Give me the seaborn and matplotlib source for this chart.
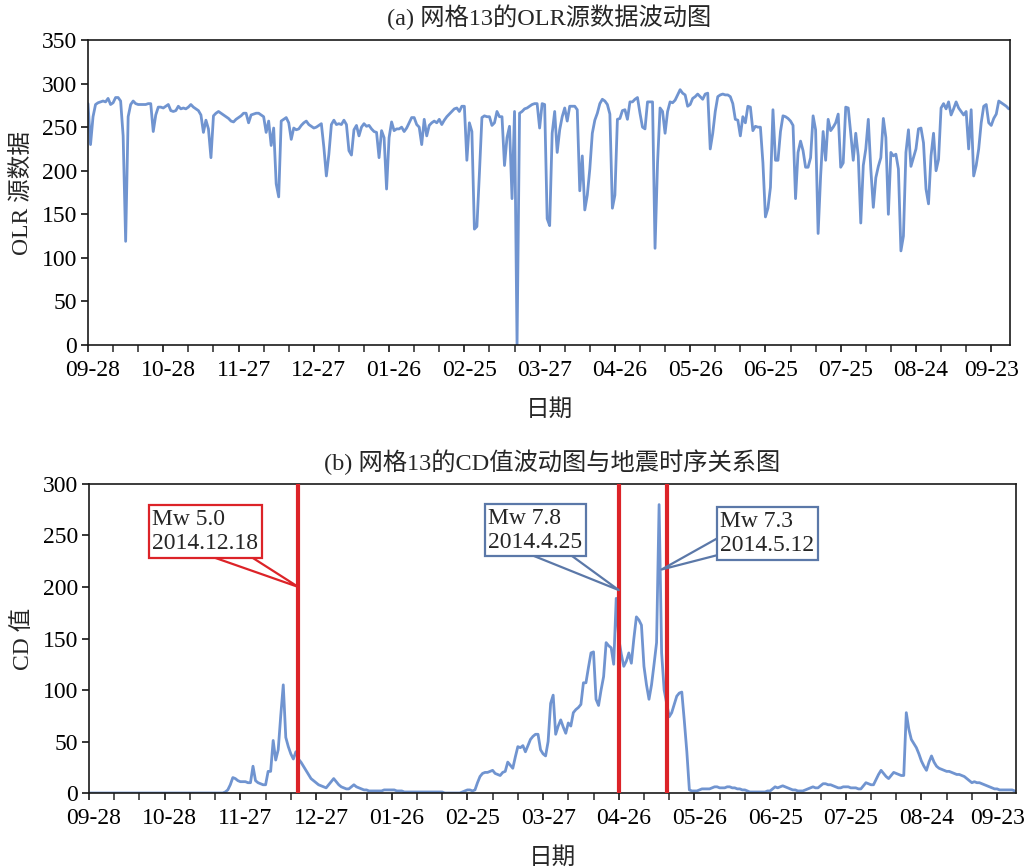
import matplotlib
matplotlib.use('Agg')
import matplotlib.pyplot as plt
import matplotlib.dates as mdates
from matplotlib.ticker import FixedLocator, MultipleLocator
from matplotlib.transforms import ScaledTranslation
import pandas as pd
import seaborn as sns

start = '2014-09-28'

# daily OLR values of grid 13
olr = [277, 230, 262, 276, 278, 279, 280, 279, 283, 276,
       278, 284, 284, 280, 240, 119, 262, 276, 280, 277,
       276, 276, 276, 276, 277, 277, 245, 264, 273, 273,
       272, 274, 276, 269, 268, 269, 274, 271, 272, 271,
       273, 276, 273, 271, 269, 264, 244, 258, 248, 215,
       263, 266, 268, 266, 264, 262, 260, 257, 256, 259,
       261, 263, 266, 266, 255, 264, 265, 266, 266, 264,
       262, 244, 257, 229, 249, 185, 170, 257, 259, 261,
       255, 236, 249, 247, 248, 252, 255, 257, 253, 251,
       249, 250, 252, 254, 227, 194, 219, 253, 258, 253,
       254, 253, 258, 253, 223, 218, 247, 252, 240, 250,
       254, 251, 252, 248, 245, 244, 215, 246, 238, 179,
       238, 256, 246, 248, 248, 250, 245, 249, 255, 261,
       261, 253, 250, 230, 259, 240, 252, 255, 257, 255,
       259, 253, 258, 262, 265, 268, 271, 272, 268, 274,
       274, 212, 255, 245, 133, 136, 197, 261, 263, 262,
       262, 252, 255, 268, 262, 262, 206, 238, 251, 168,
       268, 0, 266, 268, 271, 272, 274, 276, 277, 277,
       249, 277, 276, 145, 137, 243, 268, 221, 247, 262,
       272, 257, 274, 274, 274, 270, 177, 217, 155, 172,
       202, 243, 258, 266, 277, 282, 280, 276, 265, 157,
       172, 259, 260, 269, 270, 259, 279, 279, 282, 284,
       266, 250, 248, 279, 279, 279, 111, 209, 272, 268,
       243, 268, 279, 278, 281, 287, 293, 289, 287, 274,
       276, 283, 285, 288, 285, 282, 288, 289, 225, 243,
       268, 285, 287, 288, 287, 287, 285, 277, 259, 258,
       240, 262, 255, 274, 273, 246, 251, 250, 250, 209,
       147, 157, 181, 270, 212, 212, 245, 263, 262, 260,
       257, 252, 168, 221, 234, 223, 204, 204, 215, 263,
       247, 128, 194, 245, 212, 259, 246, 250, 255, 265,
       204, 209, 273, 272, 243, 212, 243, 217, 140, 206,
       225, 259, 202, 158, 192, 205, 215, 260, 238, 150,
       221, 217, 219, 202, 108, 125, 221, 247, 205, 215,
       225, 248, 249, 232, 179, 162, 217, 243, 200, 213,
       272, 277, 271, 279, 264, 271, 279, 272, 268, 264,
       268, 225, 270, 194, 206, 225, 255, 274, 276, 255,
       252, 260, 265, 280, 278, 276, 274, 271]

# daily CD values
cd = [0] * 50 + [
    0, 0, 0, 0, 1, 3, 8, 15, 14, 12,
    11, 11, 11, 10, 10, 26, 12, 10, 9, 8,
    8, 21, 21, 51, 32, 42, 75, 105, 54, 45,
    38, 33, 40, 33, 30, 26, 22, 18, 14, 12,
    10, 8, 7, 6, 5, 8, 11, 14, 11, 8,
    6, 5, 4, 4, 6, 8, 6, 5, 4, 3,
    3, 2, 2, 2, 2, 2, 2, 3, 3, 3,
    3, 3, 2, 2, 2, 1, 1, 1, 1, 1,
    1, 1, 1, 1, 1, 1, 1, 1, 1, 1,
    1, 0, 0, 0, 0, 0, 0, 0, 1, 2,
    3, 3, 2, 3, 10, 16, 19, 20, 20, 21,
    22, 19, 18, 17, 20, 21, 30, 27, 24, 35,
    45, 44, 46, 40, 46, 52, 55, 57, 57, 42,
    38, 36, 50, 87, 95, 57, 65, 71, 64, 58,
    68, 65, 78, 81, 83, 86, 107, 107, 122, 136,
    137, 91, 85, 100, 113, 146, 143, 141, 125, 189,
    150, 135, 123, 128, 136, 126, 150, 171, 168, 163,
    123, 105, 91, 105, 125, 146, 280, 136, 100, 87,
    74, 78, 86, 94, 97, 98, 70, 40, 3, 2,
    2, 2, 3, 4, 4, 4, 4, 5, 6, 6,
    5, 5, 5, 6, 6, 5, 5, 4, 4, 3,
    3, 2, 1, 1, 1, 1, 1, 1, 1, 2,
    2, 4, 6, 5, 6, 7, 6, 5, 4, 3,
    3, 2, 2, 2, 3, 4, 5, 6, 5, 5,
    7, 9, 9, 8, 8, 7, 6, 5, 5, 6,
    6, 6, 5, 5, 5, 4, 4, 7, 10, 9,
    8, 8, 13, 18, 22, 19, 16, 14, 17, 20,
    19, 18, 17, 17, 78, 62, 52, 48, 44, 38,
    31, 26, 22, 30, 36, 30, 26, 24, 23, 22,
    21, 21, 20, 19, 18, 18, 17, 16, 14, 12,
    10, 11, 10, 10, 9, 8, 7, 6, 5, 4,
    4, 3, 3, 3, 3, 3, 3, 2]

# earthquake marks (line positions) and callouts
quake_dates = ['2014-12-20', '2015-04-26', '2015-05-15']
quake_labels = ['Mw 5.0\n2014.12.18', 'Mw 7.8\n2014.4.25', 'Mw 7.3\n2014.5.12']
tip_dates = ['2014-12-20', '2015-04-26', '2015-05-13']
tip_values = [200, 197, 217]
box_dates = ['2014-11-13', '2015-03-24', '2015-06-24']
box_values = [254, 255, 252]
box_colors = ['#DC2328', '#5B78A8', '#5B78A8']
# where the pointer leaves the box (fraction of box) and its width
pointer_relpos = [(0.3, 0.5), (0.24, 0.5), (0.45, 0.6)]
pointer_width = [1.25, 1.3, 1.2]

dates = pd.date_range(start, periods=len(olr), freq='D')
df = pd.DataFrame({'date': dates, 'olr': olr, 'cd': cd})
major_ticks = pd.date_range(start, periods=13, freq='30D')
minor_ticks = pd.date_range(start, periods=37, freq='10D')

sns.set_style('ticks')
plt.rcParams['font.family'] = ['Liberation Serif', 'Noto Sans CJK SC']
plt.rcParams['font.size'] = 17
plt.rcParams['axes.linewidth'] = 1.2
plt.rcParams['xtick.major.size'] = 5
plt.rcParams['xtick.minor.size'] = 5
plt.rcParams['ytick.major.size'] = 5
plt.rcParams['xtick.major.width'] = 1.1
plt.rcParams['xtick.minor.width'] = 1.1
plt.rcParams['ytick.major.width'] = 1.1

line_color = '#7094D0'
fig = plt.figure(figsize=(10.27, 8.68), dpi=100)
ax1 = fig.add_axes([0.0857, 0.6025, 0.8978, 0.3514])
ax2 = fig.add_axes([0.0867, 0.0864, 0.9026, 0.356])

x0 = pd.Timestamp(start)
x1 = x0 + pd.Timedelta(days=367.5)
label_shift = ScaledTranslation(5 / 100, 0, fig.dpi_scale_trans)


def format_axis(ax):
    ax.set_xlim(x0, x1)
    ax.xaxis.set_major_locator(FixedLocator(mdates.date2num(major_ticks)))
    ax.xaxis.set_minor_locator(FixedLocator(mdates.date2num(minor_ticks)))
    ax.xaxis.set_major_formatter(mdates.DateFormatter('%m-%d'))
    ax.yaxis.set_major_locator(MultipleLocator(50))
    ax.tick_params(axis='x', labelsize=17, colors='black', pad=6)
    ax.tick_params(axis='y', labelsize=17, colors='black', pad=3)
    # Excel-style labels sit a little right of their tick (last one kept inside)
    for lab in ax.get_xticklabels()[:-1]:
        lab.set_transform(lab.get_transform() + label_shift)
    ax.set_xlabel('日期', fontsize=17, labelpad=13)
    for s in ax.spines.values():
        s.set_color('#1a1a1a')


# (a) OLR
sns.lineplot(data=df, x='date', y='olr', ax=ax1, color=line_color, lw=2)
ax1.set_ylim(0, 350)
format_axis(ax1)
ax1.set_ylabel('OLR 源数据', fontsize=17, labelpad=6)
ax1.set_title('(a) 网格13的OLR源数据波动图', fontsize=17.5, pad=11)

# (b) CD with earthquakes
sns.lineplot(data=df, x='date', y='cd', ax=ax2, color=line_color, lw=2)
ax2.set_ylim(0, 300)
format_axis(ax2)
ax2.set_ylabel('CD 值', fontsize=17, labelpad=6)
ax2.set_title('(b) 网格13的CD值波动图与地震时序关系图', fontsize=17.5, pad=10)

for qd in quake_dates:
    ax2.axvline(pd.Timestamp(qd), color='#DC2328', lw=3, zorder=3)

# callouts: the wedge starts under the box so it comes out of the box edge
for i, lab in enumerate(quake_labels):
    c = box_colors[i]
    ax2.annotate(lab, xy=(pd.Timestamp(tip_dates[i]), tip_values[i]),
                 xytext=(pd.Timestamp(box_dates[i]), box_values[i]),
                 ha='center', va='center', multialignment='left', fontsize=17,
                 bbox=dict(boxstyle='square,pad=0.15', fc='white', ec=c, lw=1.6),
                 arrowprops=dict(arrowstyle=f'wedge,tail_width={pointer_width[i]}',
                                 fc='white', ec=c, lw=1.6, patchA=None,
                                 relpos=pointer_relpos[i], shrinkA=0, shrinkB=0),
                 zorder=5)

fig.savefig('out.png', dpi=100)
